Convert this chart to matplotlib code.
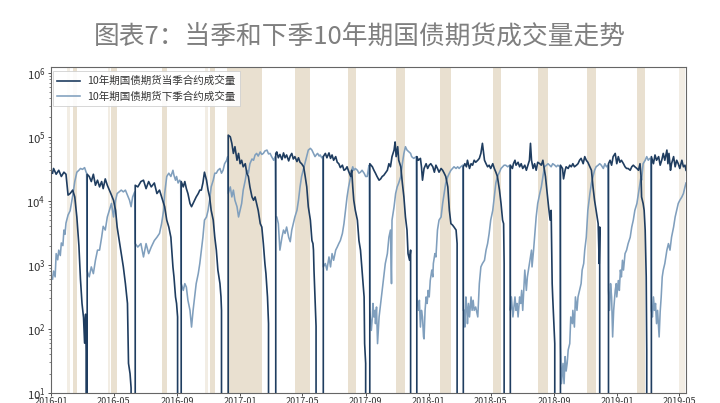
import numpy as np
import matplotlib
matplotlib.use("Agg")
import matplotlib.pyplot as plt
import matplotlib.dates as mdates
from matplotlib.ticker import LogLocator
from matplotlib.lines import Line2D

plt.rcParams['font.family'] = ['Noto Sans CJK SC', 'DejaVu Sans']
plt.rcParams['axes.unicode_minus'] = False

title = '图表7：当季和下季10年期国债期货成交量走势'
series_names = ['10年期国债期货当季合约成交量', '10年期国债期货下季合约成交量']
base_date = '2016-01-01'

# ---- current-quarter contract (days since 2016-01-01, volume) ----
cur_day = [3,5,10,15,20,25,29,33,37,42,46,50,54,57,60,63,65,67,68,69,
           70,74,78,82,86,90,94,98,101,105,109,113,117,121,125,128,132,136,140,144,148,150,153,155,157,162,
           163,168,174,179,184,189,194,200,205,210,214,218,220,224,228,232,236,238,241,243,245,246,251,
           252,256,259,262,265,269,272,275,278,281,285,288,291,294,297,301,304,307,310,314,317,320,323,327,329,330,332,342,
           343,347,350,353,356,360,363,366,369,372,376,379,382,385,389,392,395,398,401,405,408,411,414,416,419,421,423,434,
           435,437,440,443,447,450,453,456,460,463,466,469,472,476,479,482,485,489,492,495,498,502,505,507,508,509,511,513,516,526,
           527,531,534,538,541,544,547,551,554,557,560,564,567,570,573,576,580,582,584,586,589,593,596,599,602,606,607,609,610,616,
           617,622,625,628,631,635,638,641,644,647,651,654,657,660,664,666,668,671,673,677,680,683,686,689,691,694,696,698,707,
           708,711,715,717,719,722,726,729,732,735,739,742,745,748,751,755,758,761,764,768,771,774,777,780,784,786,787,797,
           798,801,804,806,810,813,816,819,822,826,829,832,835,839,842,845,848,851,855,858,861,864,868,871,874,876,877,879,888,
           889,893,895,898,900,904,907,910,913,917,920,923,926,928,930,933,936,939,942,946,949,952,954,957,961,963,966,968,970,971,975,977,985,
           986,990,992,995,997,1001,1004,1007,1010,1013,1017,1020,1023,1026,1030,1033,1036,1039,1043,1046,1049,1052,1055,1059,1061,1062,1064,1078,
           1079,1082,1085,1088,1092,1095,1098,1101,1104,1108,1111,1114,1117,1121,1124,1127,1130,1134,1137,1140,1142,1143,1146,1148,1150,1152,1153,1154,1161,
           1162,1164,1166,1169,1172,1176,1179,1182,1185,1188,1192,1194,1196,1199,1201,1205,1208,1211,1214,1217,1221,1224,1227,1229]
cur_vol = [27000,32000,26000,30000,24000,28000,26000,12300,13000,14700,11500,5600,2000,600,250,150,60,170,45,0,
           26000,24000,20000,26000,17500,21000,16500,20000,15500,22000,17500,14700,12300,10200,7100,3900,2400,1500,930,510,250,29,20,12,0,0,
           17500,16500,20000,21000,15500,20000,16500,19000,13000,14700,11500,9100,8100,5000,3900,2700,930,650,316,250,154,0,0,
           20000,16500,20000,15500,13000,9100,8100,9100,10200,11500,13000,14700,14700,19000,28000,21000,14700,11500,7100,5000,2700,1700,830,510,316,195,0,0,
           106000,100000,79000,55000,70000,43000,55000,38000,43000,34000,38000,27000,24000,16500,11500,10200,11500,9100,7100,4400,3900,2150,1050,730,316,121,0,0,
           55000,58000,47000,53000,44000,56000,47000,52000,42000,50000,55000,45000,49000,41000,47000,40000,38000,34000,24000,16500,8100,5000,2400,2150,1700,830,316,110,0,0,
           49000,55000,47000,56000,46000,52000,43000,49000,40000,38000,33000,36000,30000,31000,34000,29000,24000,30000,16500,10200,7100,5000,2400,1700,830,316,59,29,0,0,
           38000,34000,30000,27000,24000,21000,22000,24000,25000,27000,30000,38000,34000,49000,62000,83000,49000,70000,43000,34000,19000,11500,5600,3500,1500,1180,1700,0,0,
           49000,43000,46000,34000,21000,32000,38000,32000,36000,38000,34000,28000,36000,32000,28000,32000,30000,27000,24000,16500,7100,4400,4200,3900,3500,2150,0,0,
           34000,38000,34000,43000,32000,38000,36000,43000,40000,43000,46000,55000,79000,43000,38000,34000,36000,32000,38000,32000,28000,24000,14700,9100,5000,4400,1050,0,0,
           36000,32000,38000,43000,36000,40000,34000,38000,32000,36000,30000,36000,43000,79000,43000,32000,38000,30000,40000,38000,36000,43000,34000,24000,11500,8100,5000,7100,510,316,59,0,0,
           36000,32000,22000,30000,34000,32000,36000,34000,38000,34000,36000,38000,43000,46000,38000,49000,43000,40000,34000,30000,16500,10200,7100,4400,1050,3900,0,0,
           38000,43000,36000,49000,55000,38000,49000,40000,43000,38000,34000,32000,32000,30000,34000,36000,34000,32000,30000,38000,24000,11500,9100,7100,3500,650,47,0,0,
           49000,43000,38000,52000,43000,49000,36000,43000,55000,43000,62000,38000,55000,30000,38000,49000,34000,43000,38000,32000,43000,34000,36000,30000]

# ---- next-quarter contract ----
nxt_day = [3,5,8,10,13,15,18,20,23,25,27,29,33,37,42,46,50,54,57,61,65,68,69,
           70,74,78,82,86,90,94,98,101,105,109,113,117,121,125,128,132,136,140,144,148,152,155,158,162,
           163,168,174,179,184,189,194,200,205,210,214,218,220,224,228,232,236,238,241,243,246,249,251,
           252,256,259,262,265,269,272,275,278,281,285,288,291,294,297,301,304,307,310,314,317,320,323,327,330,333,336,340,342,
           343,347,350,353,356,360,363,366,369,372,376,379,382,385,389,392,395,398,401,405,408,411,414,418,421,424,427,431,434,
           435,437,440,443,447,450,453,456,460,463,466,469,472,476,479,482,485,489,492,495,498,502,505,508,511,514,516,519,521,524,526,
           527,531,534,538,541,544,547,551,554,557,560,564,567,570,573,576,580,582,584,586,589,593,596,599,602,606,609,612,615,616,
           617,620,622,623,625,627,628,630,632,635,638,641,644,647,651,654,657,659,660,664,667,670,673,677,680,683,686,689,693,696,698,702,707,
           708,711,713,715,717,719,721,722,724,726,728,730,732,734,737,739,740,743,745,748,751,755,758,761,764,768,771,774,777,780,784,787,790,793,797,
           798,800,801,803,805,806,808,810,813,815,817,819,822,826,829,832,835,839,842,845,848,851,855,858,861,864,868,871,874,877,880,884,888,
           889,891,894,896,898,900,902,904,907,909,911,913,915,917,920,922,924,926,930,931,934,936,939,942,946,949,952,955,959,962,965,968,971,975,978,981,985,
           986,988,991,993,995,997,999,1001,1004,1006,1009,1010,1013,1015,1018,1020,1023,1026,1028,1031,1033,1036,1039,1043,1046,1049,1052,1055,1059,1062,1065,1069,1072,1075,1078,
           1079,1081,1083,1085,1087,1089,1092,1094,1095,1098,1100,1102,1104,1106,1108,1111,1114,1117,1121,1124,1127,1130,1134,1137,1140,1142,1143,1146,1150,1153,1156,1159,1161,
           1162,1164,1166,1168,1170,1172,1174,1177,1179,1181,1183,1185,1188,1192,1195,1198,1201,1205,1208,1211,1214,1217,1221,1224,1227,1229]
nxt_vol = [600,800,650,1500,1200,1700,1400,2200,2000,3500,3000,4500,6000,7000,12000,20000,28000,30000,32000,31000,33000,28000,27000,
           800,650,930,730,1180,1700,1700,2700,4000,3500,5600,7100,9100,5600,10200,13000,13800,14700,13800,14700,12300,10200,8100,11500,13800,
           2150,1900,2150,1330,2150,1500,1900,2400,2700,3100,4400,7100,13000,24000,27000,24000,30000,25000,21000,24000,19000,21000,20000,
           510,400,510,450,280,195,107,195,316,510,730,1050,1700,2700,5000,5600,7100,10200,16500,21000,27000,27000,30000,32000,27000,30000,38000,43000,49000,
           13000,16500,11500,14700,10200,8100,5600,7100,9100,14700,21000,30000,27000,38000,45000,43000,52000,55000,50000,58000,53000,55000,60000,62000,54000,55000,49000,43000,49000,
           5600,5600,4400,1700,2700,3500,3100,3900,2700,2300,3500,4400,5600,7100,10200,16500,24000,32000,40000,49000,62000,66000,62000,55000,49000,53000,55000,50000,52000,47000,49000,
           930,1050,830,1330,930,1500,1180,1700,1900,2150,2400,3100,4400,7100,11500,16500,24000,30000,34000,30000,32000,30000,27000,28000,30000,27000,24000,24000,34000,36000,
           195,95,154,250,154,195,121,220,59,154,250,400,650,1050,1500,2700,3500,510,5000,8100,13000,16500,19000,24000,38000,55000,70000,62000,58000,55000,49000,46000,49000,
           316,195,280,107,195,154,75,70,195,316,250,400,316,570,830,650,1050,1500,1330,3500,5000,5600,9100,13000,19000,24000,27000,30000,32000,34000,32000,34000,32000,34000,36000,
           195,195,107,316,195,121,250,154,316,195,280,195,220,154,510,930,1050,1180,1700,2150,3100,5000,7100,11500,19000,24000,28000,32000,34000,36000,36000,34000,36000,
           195,316,154,220,316,195,250,154,316,250,400,195,400,830,400,650,830,1050,1700,930,1700,2700,5600,9100,13000,16500,24000,34000,36000,38000,36000,34000,38000,36000,34000,36000,34000,
           59,14,29,14,37,22,29,47,59,154,121,195,107,316,195,316,400,510,830,1050,1700,2700,7100,13000,19000,24000,30000,34000,36000,38000,36000,32000,38000,34000,36000,
           400,195,510,316,75,195,400,510,316,570,400,830,650,1180,830,1500,1700,2150,2700,3900,5000,7100,9100,13000,19000,24000,21000,38000,43000,49000,43000,46000,46000,
           195,154,316,195,250,121,195,75,185,316,650,830,1050,1700,2150,1700,2700,3900,5600,7100,9100,10200,11500,13000,16500,19000]

# ---- shaded periods (days since 2016-01-01) ----
band_start = [42, 116, 214, 307, 341, 472, 575, 668, 753, 856, 943, 1037, 1135]
band_end   = [51, 128, 225, 318, 409, 502, 590, 685, 774, 871, 962, 1055, 1150]
pale_start = [30, 110, 298, 1216]
pale_end   = [37, 114, 304, 1228]

assert len(cur_day) == len(cur_vol) and len(nxt_day) == len(nxt_vol)


def to_dates(days):
    return np.datetime64(base_date) + np.array(days).astype('timedelta64[D]')


DARK = '#1f3d60'
LIGHT = '#809fbd'
BAND = '#e9e0d0'
PALE = '#f2ede4'

fig = plt.figure(figsize=(7.2, 4.03), dpi=100)
fig.patch.set_facecolor('white')
ax = fig.add_axes([51 / 720, 10 / 403, 635 / 720, 326.3 / 403])

for s, e in zip(band_start, band_end):
    ax.axvspan(to_dates([s])[0], to_dates([e])[0], color=BAND, lw=0, zorder=0)
for s, e in zip(pale_start, pale_end):
    ax.axvspan(to_dates([s])[0], to_dates([e])[0], color=PALE, lw=0, zorder=0)

ax.set_yscale('log', nonpositive='clip')
ax.plot(to_dates(nxt_day), nxt_vol, color=LIGHT, lw=1.15, zorder=2)
ax.plot(to_dates(cur_day), cur_vol, color=DARK, lw=1.2, zorder=3)

ax.set_ylim(10, 10 ** 6.094)
ax.set_xlim(np.datetime64('2016-01-01'), np.datetime64('2019-05-14'))
ax.yaxis.set_major_locator(LogLocator(base=10, numticks=12))
ax.yaxis.set_minor_locator(LogLocator(base=10, subs=np.arange(2, 10), numticks=12))
ax.xaxis.set_major_locator(mdates.MonthLocator(bymonth=[1, 5, 9]))
ax.xaxis.set_major_formatter(mdates.DateFormatter('%Y-%m'))

ax.tick_params(axis='y', which='major', labelsize=8.2, length=2.5, width=0.6, pad=1.5, colors='#333333')
ax.tick_params(axis='y', which='minor', length=1.5, width=0.5, colors='#555555')
ax.tick_params(axis='x', which='major', labelsize=6.5, length=2, width=0.6, pad=1.2, colors='#333333')
for sp in ax.spines.values():
    sp.set_color('#666666')
    sp.set_linewidth(0.8)

handles = [Line2D([], [], color=DARK, lw=1.2), Line2D([], [], color=LIGHT, lw=1.15)]
leg = ax.legend(handles, series_names, loc='upper left', bbox_to_anchor=(0.0027, 0.987),
                borderaxespad=0, fontsize=7.6, handlelength=2.1, handletextpad=0.7,
                labelspacing=0.45, borderpad=0.45, frameon=True, fancybox=False,
                edgecolor='#cccccc', framealpha=0.9)
leg.get_frame().set_linewidth(0.6)
for t in leg.get_texts():
    t.set_color('#333333')

fig.text(0.5, 1 - 37 / 403, title, ha='center', va='center', fontsize=18.5,
         color='#7f7f7f', fontweight='medium')

fig.savefig('out.png', dpi=100, facecolor='white')
